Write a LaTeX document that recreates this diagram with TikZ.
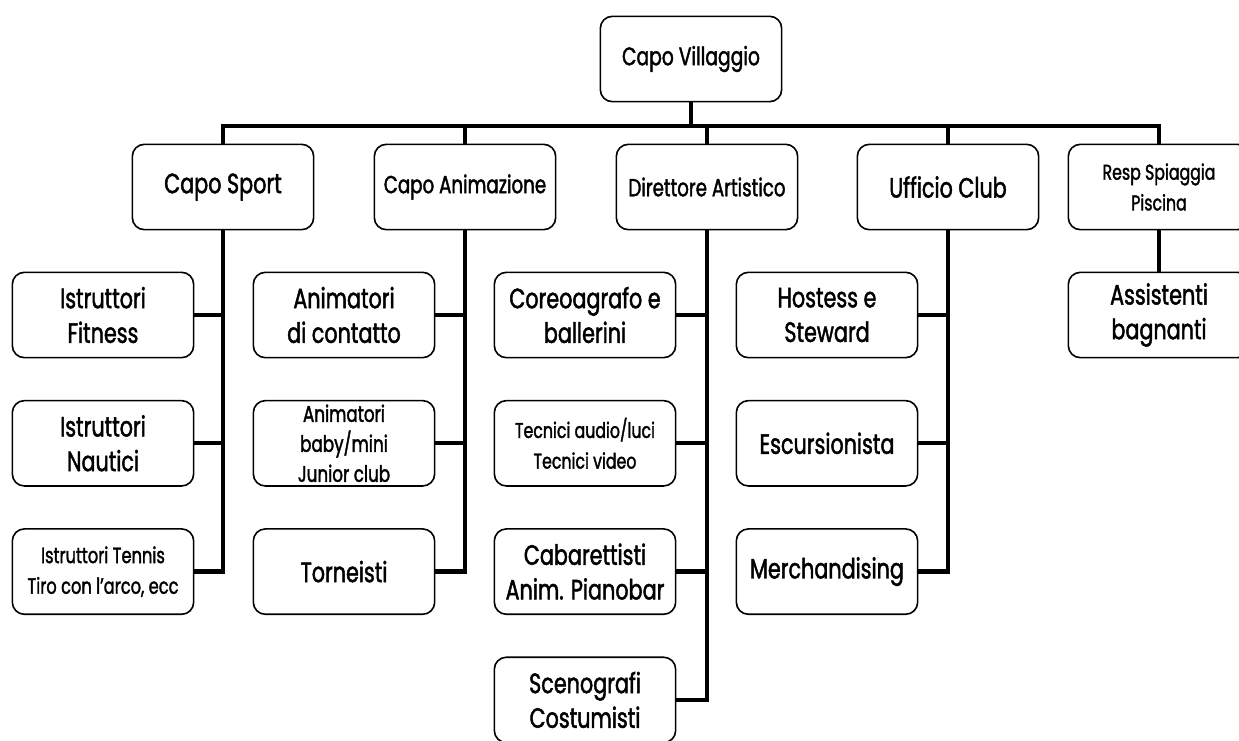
\documentclass[tikz,border=0pt]{standalone}
\usepackage{fontspec}
\setmainfont{Poppins}[FakeStretch=0.74,FakeBold=1.6]
\begin{document}
\begin{tikzpicture}[x=0.75pt,y=-0.75pt,
  box/.style={draw,rounded corners=9pt,line width=1.2pt,align=center,
    minimum width=136pt,minimum height=64pt,inner sep=1pt},
  big/.style={font=\fontsize{21}{26}\selectfont},
  mid/.style={font=\fontsize{18.5}{23}\selectfont},
  small/.style={font=\fontsize{16}{23}\selectfont},
  link/.style={line width=3.2pt}]
  \pgfmathsetmacro\rowa{315}
  \pgfmathsetmacro\vstep{128.3}   % distance between rows of staff boxes

  \clip (0,0) rectangle (1239,740);

% head of the village
  \node[box,font=\fontsize{19}{23}\selectfont] (capovill) at (691,59) {Capo Villaggio};
  \coordinate (bus) at (691,126);

% heads of department
  \node[box,big]   (sport)   at (223,187)  {Capo Sport};
  \node[box,mid]   (anim)    at (465,187)  {Capo Animazione};
  \node[box,mid]   (dirart)  at (707,187)  {Direttore Artistico};
  \node[box,big]   (ufficio) at (948,187)  {Ufficio Club};
  \node[box,small] (resp)    at (1159,187) {Resp Spiaggia\\Piscina};

  \draw[link] (capovill.south) -- (capovill.south |- bus);
  \draw[link] (sport.north) |- (resp.north |- bus) -- (resp.north);
  \draw[link] (anim.north) -- (anim.north |- bus);
  \draw[link] (dirart.north) -- (dirart.north |- bus);
  \draw[link] (ufficio.north) -- (ufficio.north |- bus);

% sport
  \node[box,big]   (fitness) at (103,\rowa)          {Istruttori\\Fitness};
  \node[box,big]   (nautici) at (103,\rowa+\vstep)   {Istruttori\\Nautici};
  \node[box,font=\fontsize{16.5}{23}\selectfont]
                   (tennis)  at (103,\rowa+2*\vstep) {Istruttori Tennis\\Tiro con l'arco, ecc};
  \draw[link] (sport.south) |- (fitness.east);
  \draw[link] (sport.south) |- (nautici.east);
  \draw[link] (sport.south) |- (tennis.east);

% animazione
  \node[box,big] (animcont)  at (344,\rowa)          {Animatori\\di contatto};
  \node[box,font=\fontsize{17}{22.5}\selectfont]
                 (babymini)  at (344,\rowa+\vstep)   {Animatori\\baby/mini\\Junior club};
  \node[box,big] (torneisti) at (344,\rowa+2*\vstep) {Torneisti};
  \draw[link] (anim.south) |- (animcont.east);
  \draw[link] (anim.south) |- (babymini.east);
  \draw[link] (anim.south) |- (torneisti.east);

% direzione artistica
  \node[box,big]   (coreo)   at (585,\rowa)          {Coreoagrafo e\\ballerini};
  \node[box,small] (tecnici) at (585,\rowa+\vstep)   {Tecnici audio/luci\\Tecnici video};
  \node[box,big]   (cabaret) at (585,\rowa+2*\vstep) {Cabarettisti\\Anim. Pianobar};
  \node[box,big]   (sceno)   at (585,\rowa+3*\vstep) {Scenografi\\Costumisti};
  \draw[link] (dirart.south) |- (coreo.east);
  \draw[link] (dirart.south) |- (tecnici.east);
  \draw[link] (dirart.south) |- (cabaret.east);
  \draw[link] (dirart.south) |- (sceno.east);

% ufficio club
  \node[box,big] (hostess) at (827,\rowa)          {Hostess e\\Steward};
  \node[box,big] (escurs)  at (827,\rowa+\vstep)   {Escursionista};
  \node[box,big] (merch)   at (827,\rowa+2*\vstep) {Merchandising};
  \draw[link] (ufficio.south) |- (hostess.east);
  \draw[link] (ufficio.south) |- (escurs.east);
  \draw[link] (ufficio.south) |- (merch.east);

% spiaggia
  \node[box,big] (assist) at (1159,\rowa) {Assistenti\\bagnanti};
  \draw[link] (resp.south) -- (assist.north);

\end{tikzpicture}
\end{document}
